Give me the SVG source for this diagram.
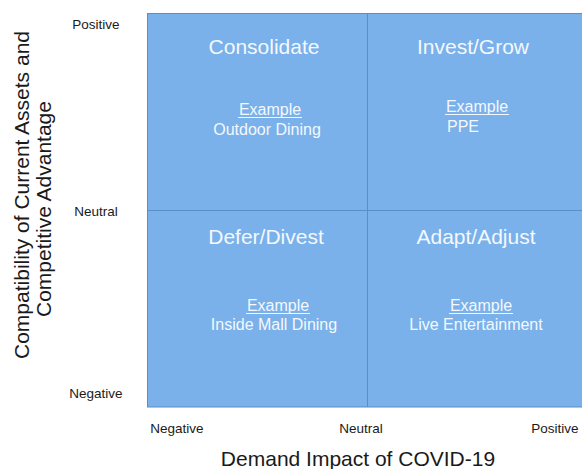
<svg xmlns="http://www.w3.org/2000/svg" width="582" height="469" viewBox="0 0 582 469">
  <style>
    text { font-family: "Liberation Sans", Arial, sans-serif; }
    .quad { fill: #7AB1EA; stroke: #5B8DC6; stroke-width: 1; }
    .title { fill: #F4F8FD; font-size: 21px; text-anchor: middle; }
    .ex { fill: #F4F8FD; font-size: 16px; text-anchor: middle; }
    .ul { stroke: #F4F8FD; stroke-width: 1; }
    .tick { fill: #1A1A1A; font-size: 13.5px; text-anchor: middle; }
    .axis { fill: #1A1A1A; font-size: 21px; text-anchor: middle; }
  </style>

  <!-- quadrant grid -->
  <g id="grid">
    <rect class="quad" x="147.5" y="13.5" width="440" height="393.5"/>
  </g>

  <g id="dividers">
    <line x1="367.5" y1="13.5" x2="367.5" y2="407" stroke="#5B8DC6" stroke-width="1"/>
    <line x1="147.5" y1="210.5" x2="582" y2="210.5" stroke="#5B8DC6" stroke-width="1"/>
  </g>

  <g id="consolidate">
    <text class="title" x="264" y="54">Consolidate</text>
    <text class="ex" x="270" y="115">Example</text>
    <line class="ul" x1="238" y1="117.5" x2="302" y2="117.5"/>
    <text class="ex" x="267" y="135">Outdoor Dining</text>
  </g>

  <g id="invest-grow">
    <text class="title" x="473" y="54">Invest/Grow</text>
    <text class="ex" x="477" y="112">Example</text>
    <line class="ul" x1="445" y1="114.5" x2="509" y2="114.5"/>
    <text class="ex" x="463" y="132">PPE</text>
  </g>

  <g id="defer-divest">
    <text class="title" x="266" y="244">Defer/Divest</text>
    <text class="ex" x="278" y="311">Example</text>
    <line class="ul" x1="246" y1="313.5" x2="310" y2="313.5"/>
    <text class="ex" x="274" y="330">Inside Mall Dining</text>
  </g>

  <g id="adapt-adjust">
    <text class="title" x="476" y="244">Adapt/Adjust</text>
    <text class="ex" x="481" y="311">Example</text>
    <line class="ul" x1="449" y1="313.5" x2="513" y2="313.5"/>
    <text class="ex" x="476" y="330">Live Entertainment</text>
  </g>

  <!-- vertical axis -->
  <g id="y-axis">
    <text class="tick" x="96" y="29">Positive</text>
    <text class="tick" x="96" y="216">Neutral</text>
    <text class="tick" x="96" y="398">Negative</text>
    <text class="axis" transform="translate(29 195) rotate(-90)">Compatibility of Current Assets and</text>
    <text class="axis" transform="translate(51 209) rotate(-90)">Competitive Advantage</text>
  </g>

  <!-- horizontal axis -->
  <g id="x-axis">
    <text class="tick" x="177" y="433">Negative</text>
    <text class="tick" x="361" y="433">Neutral</text>
    <text class="tick" x="555" y="433">Positive</text>
    <text class="axis" x="358" y="466">Demand Impact of COVID-19</text>
  </g>
</svg>
